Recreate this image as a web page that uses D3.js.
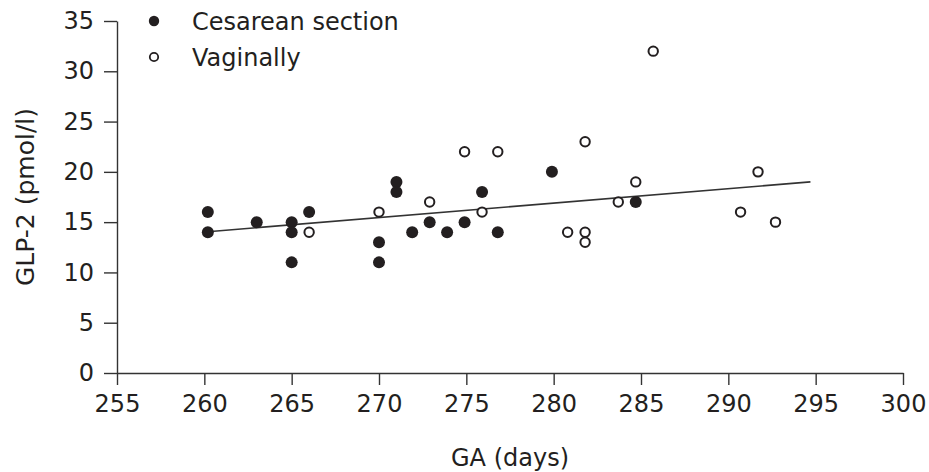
<!DOCTYPE html>
<html>
<head>
<meta charset="utf-8">
<script src="https://cdn.jsdelivr.net/npm/d3@7"></script>
<style>
  body { margin: 0; background: #fff; }
  svg text { font-family: "DejaVu Sans", "Liberation Sans", sans-serif; fill: #231f20; }
</style>
</head>
<body>
<div id="chart-area"></div>
<script>
// GLP-2 vs gestational age, by delivery mode

// Cesarean section (filled dots)
const cesareanGA  = [260.2, 260.2, 263.0, 265.0, 265.0, 265.0, 266.0, 270.0, 270.0, 271.0, 271.0, 271.9, 272.9, 273.9, 274.9, 275.9, 276.8, 279.9, 284.7];
const cesareanGLP = [16, 14, 15, 15, 14, 11, 16, 13, 11, 19, 18, 14, 15, 14, 15, 18, 14, 20, 17];

// Vaginally (open dots)
const vaginalGA  = [266.0, 270.0, 272.9, 274.9, 275.9, 276.8, 280.8, 281.8, 281.8, 281.8, 283.7, 284.7, 285.7, 290.7, 291.7, 292.7];
const vaginalGLP = [14, 16, 17, 22, 16, 22, 14, 23, 14, 13, 17, 19, 32, 16, 20, 15];

// regression line end points
const fitGA  = [260.2, 294.7];
const fitGLP = [14.05, 19.0];

const xTicks = [255, 260, 265, 270, 275, 280, 285, 290, 295, 300];
const yTicks = [0, 5, 10, 15, 20, 25, 30, 35];

const legendLabels = ["Cesarean section", "Vaginally"];

const W = 929, H = 472;
const margin = { top: 21, right: 26, bottom: 99, left: 117 };
const width = W - margin.left - margin.right;
const height = H - margin.top - margin.bottom;
const ink = "#231f20";

const svg = d3.select("#chart-area")
  .append("svg")
  .attr("width", W)
  .attr("height", H);

const g = svg.append("g")
  .attr("transform", `translate(${margin.left},${margin.top})`);

const x = d3.scaleLinear().domain([255, 300]).range([0, width]);
const y = d3.scaleLinear().domain([0, 35]).range([height, 0]);

// axes
const xAxis = g.append("g")
  .attr("transform", `translate(0,${height})`)
  .call(d3.axisBottom(x).tickValues(xTicks).tickSize(12).tickSizeOuter(0).tickPadding(10));

const yAxis = g.append("g")
  .call(d3.axisLeft(y).tickValues(yTicks).tickSize(13).tickSizeOuter(0).tickPadding(10));

[xAxis, yAxis].forEach(a => {
  a.selectAll("line, path").attr("stroke", "#333").attr("stroke-width", 1.4);
  a.selectAll("text")
    .attr("fill", ink)
    .style("font-family", "'DejaVu Sans', sans-serif")
    .style("font-size", "24px");
});

// axis titles
svg.append("text")
  .attr("x", margin.left + width / 2)
  .attr("y", 466)
  .attr("text-anchor", "middle")
  .style("font-size", "24px")
  .text("GA (days)");

svg.append("text")
  .attr("transform", `translate(34,${margin.top + height / 2}) rotate(-90)`)
  .attr("text-anchor", "middle")
  .style("font-size", "25px")
  .text("GLP-2 (pmol/l)");

// regression line
const fit = fitGA.map((d, i) => [d, fitGLP[i]]);
g.append("path")
  .datum(fit)
  .attr("fill", "none")
  .attr("stroke", "#333")
  .attr("stroke-width", 1.6)
  .attr("d", d3.line().x(d => x(d[0])).y(d => y(d[1])));

// points
const cesarean = cesareanGA.map((d, i) => ({ ga: d, glp: cesareanGLP[i] }));
const vaginal = vaginalGA.map((d, i) => ({ ga: d, glp: vaginalGLP[i] }));

g.selectAll(".ces")
  .data(cesarean)
  .enter()
  .append("circle")
  .attr("class", "ces")
  .attr("cx", d => x(d.ga))
  .attr("cy", d => y(d.glp))
  .attr("r", 6)
  .attr("fill", ink);

g.selectAll(".vag")
  .data(vaginal)
  .enter()
  .append("circle")
  .attr("class", "vag")
  .attr("cx", d => x(d.ga))
  .attr("cy", d => y(d.glp))
  .attr("r", 4.7)
  .attr("fill", "#fff")
  .attr("stroke", ink)
  .attr("stroke-width", 2);

// legend
const legend = svg.append("g").attr("transform", "translate(154,21)");
legendLabels.forEach((lab, i) => {
  const row = legend.append("g").attr("transform", `translate(0,${i * 36})`);
  if (i === 0) {
    row.append("circle").attr("r", 5.2).attr("fill", ink);
  } else {
    row.append("circle").attr("r", 4.2).attr("fill", "#fff")
      .attr("stroke", ink).attr("stroke-width", 1.8);
  }
  row.append("text")
    .attr("x", 38)
    .attr("dy", "0.36em")
    .style("font-size", "24px")
    .text(lab);
});
</script>
</body>
</html>
